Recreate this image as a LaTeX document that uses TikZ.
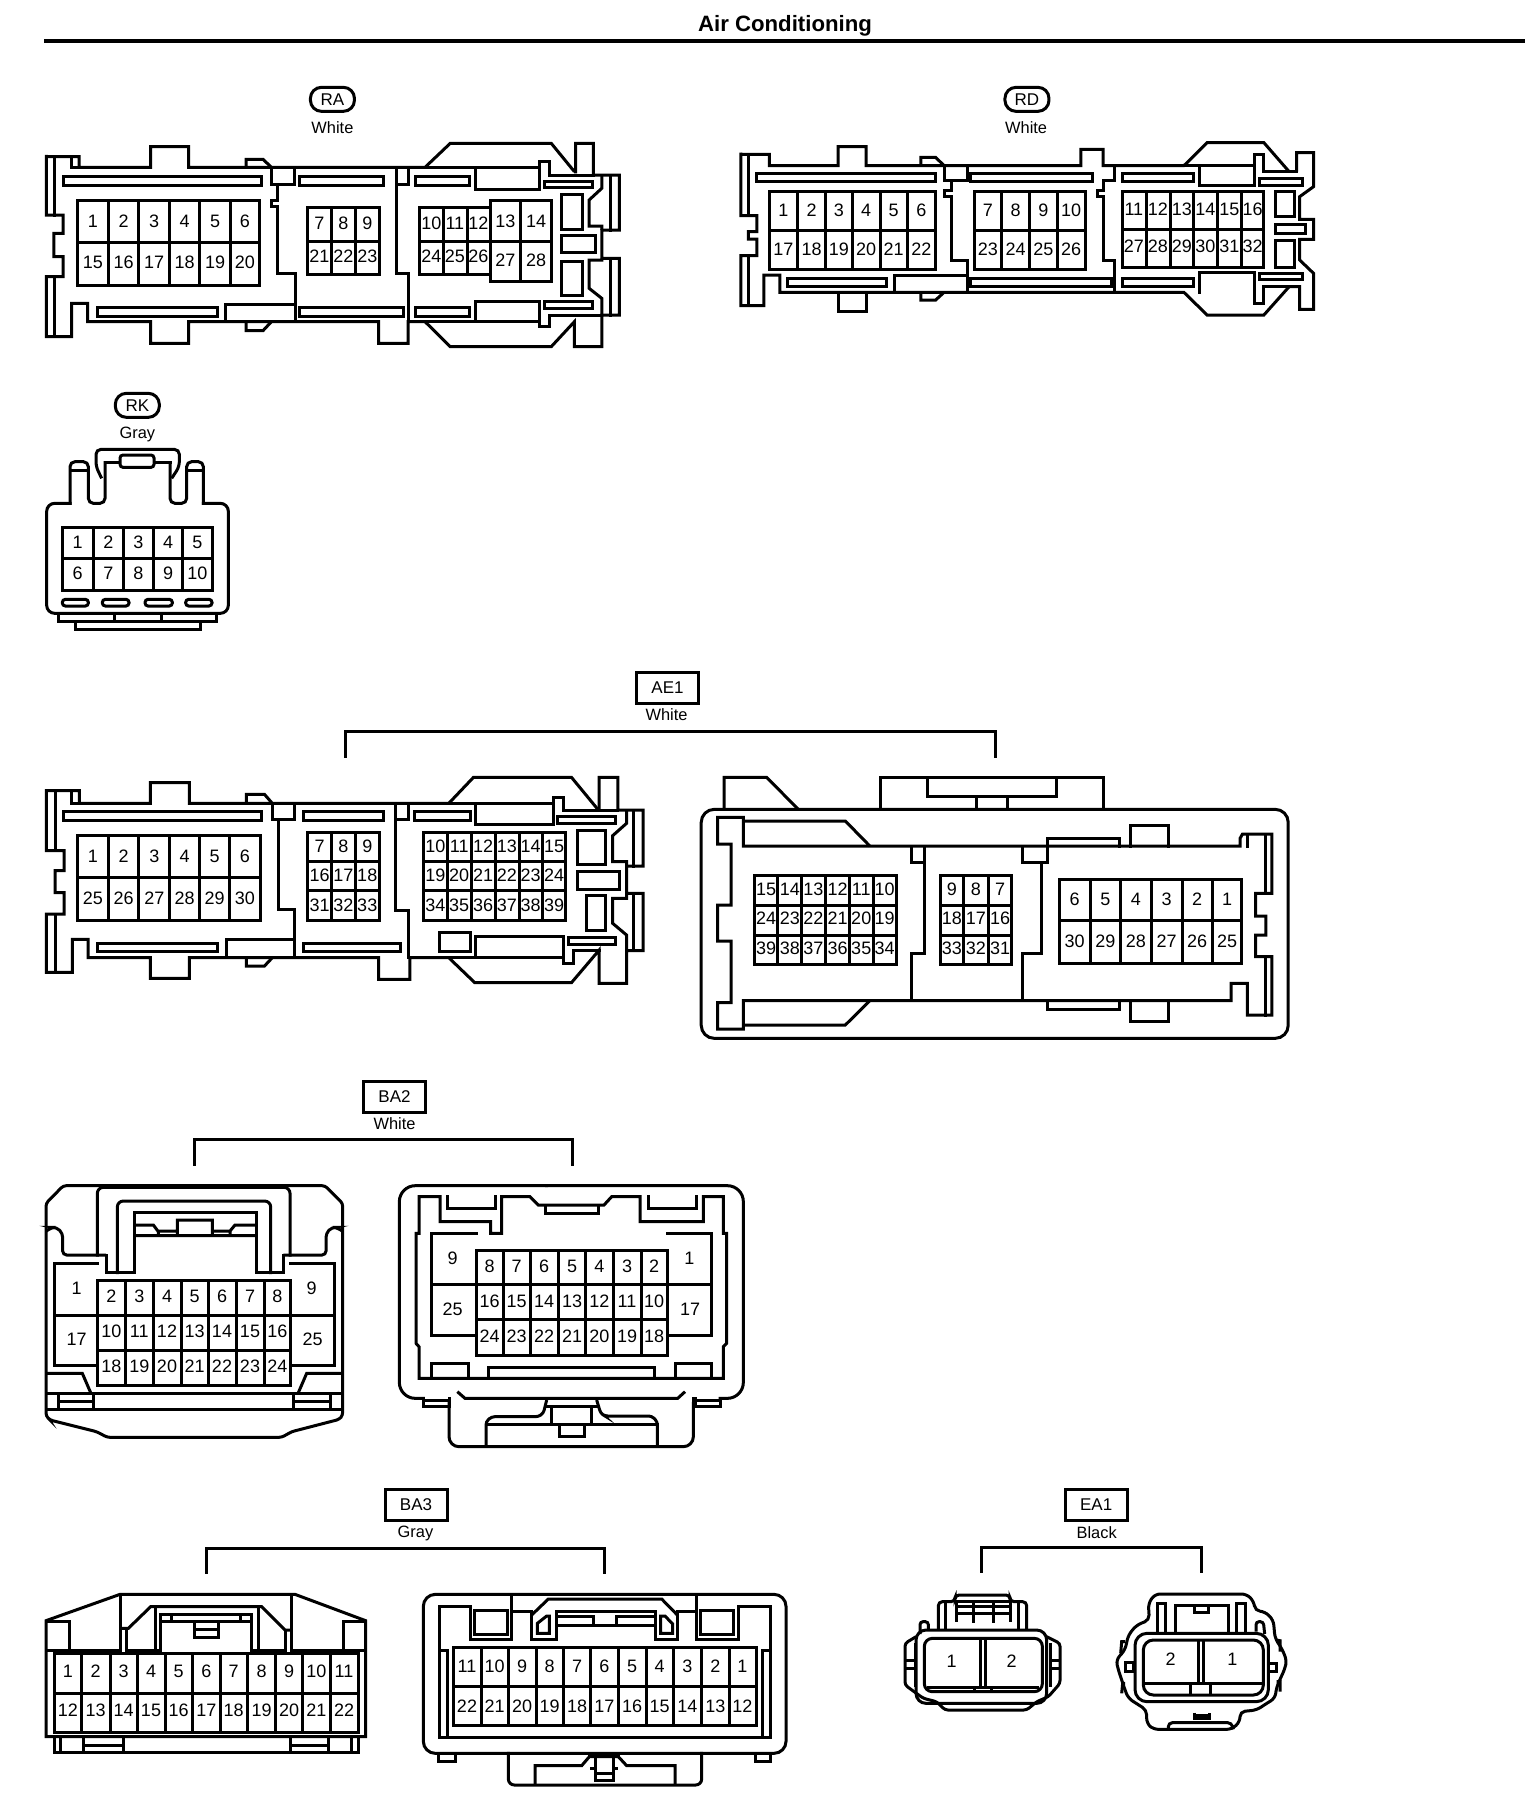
\documentclass[tikz,border=0pt]{standalone}
\usepackage{fontspec}
\setmainfont{Liberation Sans}
\newcommand{\gridc}[6]{\foreach \gx in {#1}{\draw[ln] (\gx,#5)--(\gx,#6);}\foreach \gy in {#2}{\draw[ln] (#3,\gy)--(#4,\gy);}}
\newcommand{\pinsrow}[3]{\foreach \px/\pt in {#3}{\node[pin] (#1\pt) at (\px,#2) {\pt};}}
\tikzset{
  ln/.style={line width=1.5pt,black,line cap=rect,line join=miter},
  flat/.style={ln,line cap=butt},
  pin/.style={inner sep=0pt,font=\fontsize{9}{9}\selectfont},
  note/.style={inner sep=0pt,font=\fontsize{8.2}{9}\selectfont},
  tagbox/.style={draw,line width=1.5pt,inner sep=0pt,minimum width=31pt,minimum height=15.5pt,font=\fontsize{8.5}{9}\selectfont},
  tagpill/.style={draw,line width=1.5pt,inner sep=0pt,rounded corners=5.5pt,minimum width=22pt,minimum height=12pt,font=\fontsize{8.5}{9}\selectfont},
  wide/.style={x=0.2104pt,y=-0.16667pt},
  wideb/.style={x=0.2168pt,y=-0.16667pt},
  widec/.style={x=0.2041pt,y=-0.16667pt},
  tri/.style={x=0.16667pt,y=-0.16667pt}
}
\begin{document}
\begin{tikzpicture}[x=0.5pt,y=-0.5pt]
\useasboundingbox (0,0) rectangle (1536,1808);
% title
\node[inner sep=0pt,font=\bfseries\fontsize{11.1}{12}\selectfont] (title) at (785,26) {Air Conditioning};
\coordinate (ruleL) at (44,41); \coordinate (ruleR) at (1525,41);
\draw[line width=1.6pt] (ruleL)--(ruleR);

% ---------- RA ----------
\begin{scope}[shift={(0,60)},wide]
\node[tagpill] (tagRA) at (790,118) {RA};
\node[note] (colRA) at (790,203) {White};
\draw[flat] (110,290)--(188,290)--(188,322)--(358,322)--(358,260)--(448,260)--(448,322)--(1010,322)--(1070,250)--(1310,250)--(1365,335);
\draw[flat] (1368,340)--(1368,250)--(1410,250)--(1410,345)--(1472,345)--(1472,510)--(1430,510)--(1430,595)--(1472,595)--(1472,765)--(1430,765)--(1430,860)--(1365,860)--(1365,785)--(1310,860)--(1070,860)--(1010,785)--(970,785)--(970,850)--(900,850)--(900,785)--(448,785)--(448,850)--(358,850)--(358,785)--(208,785)--(208,730)--(170,730)--(170,830)--(110,830)--(110,650)--(150,650)--(150,590)--(128,590)--(128,520)--(150,520)--(150,465)--(110,465)--(110,285);
\draw[ln] (130,290)--(130,465) (130,650)--(130,830);
\draw[ln] (170,290)--(170,322)--(188,322);
\draw[flat] (585,322)--(585,298)--(625,298)--(645,322) (585,785)--(585,812)--(625,812)--(645,785);
\draw[ln] (150,350) rectangle (622,375) (712,350) rectangle (912,375) (988,350) rectangle (1115,375);
\draw[ln] (232,742) rectangle (518,770) (712,742) rectangle (960,770) (988,742) rectangle (1115,770);
\draw[ln] (645,322)--(645,372)--(700,372)--(700,322);
\draw[ln] (660,372)--(660,420)--(645,420)--(645,438)--(660,438)--(660,640)--(702,640)--(702,785);
\draw[ln] (942,322)--(942,640)--(970,640)--(970,785) (970,322)--(970,372)--(942,372);
\draw[ln] (535,785)--(535,733)--(700,733);
\draw[ln] (1130,322)--(1130,388)--(1282,388)--(1282,305)--(1305,305)--(1305,345)--(1410,345);
\draw[ln] (1293,365) rectangle (1408,383) (1293,725) rectangle (1408,745);
\draw[ln] (1130,785)--(1130,725)--(1282,725)--(1282,800)--(1305,800)--(1305,765)--(1430,765);
\draw[ln] (1010,322)--(1282,322) (970,785)--(1282,785);
\draw[flat] (1430,345)--(1430,385)--(1400,420)--(1400,498)--(1430,498)--(1430,510);
\draw[flat] (1430,595)--(1430,600)--(1400,600)--(1400,685)--(1430,715)--(1430,765);
\draw[ln] (1450,345)--(1450,510) (1450,595)--(1450,765);
\draw[ln] (1335,403) rectangle (1385,507) (1335,525) rectangle (1415,578) (1335,603) rectangle (1385,705);
\gridc{185,258,330,403,475,547,617}{422,548,677}{185}{617}{422}{677}
\gridc{730,788,845,902}{442,545,643}{730}{902}{442}{643}
\gridc{997,1053,1110,1165}{442,545,643}{997}{1165}{442}{643}
\gridc{1165,1238,1310}{422,545,663}{1165}{1310}{422}{663}
\pinsrow{ra}{483}{221/1,294/2,366/3,439/4,511/5,582/6}
\pinsrow{ra}{607}{221/15,294/16,366/17,439/18,511/19,582/20}
\pinsrow{ra}{490}{759/7,816/8,873/9,1025/10,1081/11,1137/12}
\pinsrow{ra}{590}{759/21,816/22,873/23,1025/24,1081/25,1137/26}
\pinsrow{ra}{483}{1201/13,1274/14}
\pinsrow{ra}{600}{1201/27,1274/28}
\end{scope}

% ---------- RD ----------
\begin{scope}[shift={(700,60)},wide]
\node[tagpill] (tagRD) at (777,118) {RD};
\node[note] (colRD) at (775,203) {White};
\draw[flat] (97,283)--(165,283)--(165,317)--(328,317)--(328,260)--(395,260)--(395,317)--(905,317)--(905,268)--(958,268)--(958,317)--(1150,317)--(1205,248)--(1340,248)--(1400,335);
\draw[flat] (1418,335)--(1418,278)--(1458,278)--(1458,380)--(1425,410)--(1425,478)--(1458,478)--(1458,538)--(1425,538)--(1425,600)--(1458,640)--(1458,748)--(1425,748)--(1425,680)--(1400,680)--(1340,765)--(1205,765)--(1150,697)--(190,697)--(190,645)--(152,645)--(152,737)--(97,737)--(97,587)--(135,587)--(135,537)--(115,537)--(115,515)--(135,515)--(135,467)--(97,467)--(97,278);
\draw[ln] (115,283)--(115,467) (115,587)--(115,737);
\draw[ln] (328,697)--(328,755)--(395,755)--(395,697);
\draw[flat] (525,317)--(525,292)--(560,292)--(580,317) (525,697)--(525,720)--(560,720)--(580,697);
\draw[ln] (135,340) rectangle (560,365) (642,340) rectangle (932,365) (1005,340) rectangle (1172,365);
\draw[ln] (207,655) rectangle (442,680) (642,655) rectangle (978,680) (1005,655) rectangle (1172,680);
\draw[ln] (1330,355) rectangle (1432,375) (1330,640) rectangle (1432,658);
\draw[ln] (580,317)--(580,362)--(635,362)--(635,317);
\draw[ln] (597,362)--(597,392)--(580,392)--(580,408)--(597,408)--(597,602)--(635,602)--(635,697);
\draw[ln] (985,317)--(985,362)--(958,362)--(958,392)--(945,392)--(945,408)--(958,408)--(958,602)--(985,602)--(985,697);
\draw[ln] (462,697)--(462,645)--(635,645);
\draw[ln] (1187,317)--(1187,375)--(1318,375)--(1318,285)--(1338,285)--(1338,335)--(1418,335);
\draw[ln] (1150,317)--(1318,317);
\draw[ln] (1187,697)--(1187,637)--(1318,637)--(1318,730)--(1338,730)--(1338,680)--(1400,680);
\draw[ln] (1368,395) rectangle (1412,470) (1368,492) rectangle (1440,520) (1368,540) rectangle (1412,622);
\gridc{165,232,298,362,428,493,560}{395,510,628}{165}{560}{395}{628}
\gridc{652,717,783,850,915}{395,510,628}{652}{915}{395}{628}
\gridc{1003,1060,1117,1173,1230,1287,1340}{395,507,622}{1003}{1340}{395}{622}
\pinsrow{rd}{450}{198/1,265/2,330/3,395/4,460/5,526/6,684/7,750/8,816/9,882/10}
\pinsrow{rd}{567}{198/17,265/18,330/19,395/20,460/21,526/22,684/23,750/24,816/25,882/26}
\pinsrow{rd}{447}{1031/11,1088/12,1145/13,1201/14,1258/15,1313/16}
\pinsrow{rd}{560}{1031/27,1088/28,1145/29,1201/30,1258/31,1313/32}
\end{scope}

% ---------- RK ----------
\begin{scope}[shift={(0,380)},tri]
\node[tagpill] (tagRK) at (412,76) {RK};
\node[note] (colRK) at (412,164) {Gray};
\draw[ln,rounded corners=4pt] (210,370)--(140,370)--(140,700)--(685,700)--(685,370)--(610,370);
\draw[ln,rounded corners=2.5pt] (210,370)--(210,245)--(265,245)--(265,370)--(315,370)--(315,248);
\draw[ln,rounded corners=2.5pt] (610,370)--(610,245)--(560,245)--(560,370)--(510,370)--(510,248);
\draw[ln] (315,248)--(510,248) (212,272)--(263,272) (562,272)--(608,272);
\draw[flat,rounded corners=2.5pt] (305,295)--(288,260)--(288,208)--(538,208)--(538,260)--(515,295);
\draw[ln,rounded corners=1.5pt,fill=white] (360,225) rectangle (462,262);
\gridc{187,280,370,460,548,636}{442,535,632}{187}{636}{442}{632}
\pinsrow{rk}{487}{233/1,325/2,415/3,504/4,592/5}
\pinsrow{rk}{580}{233/6,325/7,415/8,504/9,592/10}
\draw[ln,rounded corners=1.5pt] (187,658) rectangle (265,678) (307,658) rectangle (387,678) (435,658) rectangle (517,678) (557,658) rectangle (636,678);
\draw[ln] (175,700)--(175,725)--(650,725)--(650,700) (342,700)--(342,725) (485,700)--(485,725);
\draw[ln] (225,725)--(225,748)--(600,748)--(600,725);
\end{scope}

% ---------- AE1 ----------
\node[tagbox] (tagAE) at (667.5,688) {AE1};
\node[note] (colAE) at (666.5,715) {White};
\coordinate (aeA) at (345,756); \coordinate (aeB) at (345,731); \coordinate (aeC) at (995,731); \coordinate (aeD) at (995,756);
\draw[ln] (aeA)--(aeB)--(aeC)--(aeD);
\begin{scope}[shift={(0,660)},wideb]
\draw[flat] (107,392)--(183,392)--(183,430)--(347,430)--(347,368)--(437,368)--(437,430)--(1035,430)--(1092,352)--(1318,352)--(1380,450);
\draw[flat] (1382,450)--(1382,352)--(1425,352)--(1425,450)--(1483,450)--(1483,618)--(1445,618)--(1445,700)--(1483,700)--(1483,872)--(1445,872)--(1445,970)--(1382,970)--(1382,870)--(1318,968)--(1095,968)--(1035,893)--(945,893)--(945,958)--(873,958)--(873,893)--(437,893)--(437,955)--(347,955)--(347,893)--(203,893)--(203,838)--(167,838)--(167,937)--(107,937)--(107,762)--(148,762)--(148,698)--(127,698)--(127,632)--(148,632)--(148,572)--(107,572)--(107,387);
\draw[ln] (127,392)--(127,572) (127,762)--(127,937) (165,392)--(165,430)--(183,430);
\draw[flat] (568,430)--(568,403)--(610,403)--(628,430) (568,893)--(568,918)--(610,918)--(628,893);
\draw[ln] (147,455) rectangle (603,480) (700,455) rectangle (885,480) (957,455) rectangle (1085,480);
\draw[ln] (225,850) rectangle (502,875) (700,850) rectangle (923,875);
\draw[ln] (628,430)--(628,477)--(680,477)--(680,430);
\draw[ln] (642,477)--(642,747)--(680,747)--(680,893);
\draw[ln] (522,893)--(522,838)--(680,838);
\draw[ln] (913,430)--(913,752)--(942,752)--(942,893) (942,430)--(942,477)--(913,477);
\draw[ln] (1035,430)--(1277,430) (1097,430)--(1097,493)--(1277,493)--(1277,412)--(1300,412)--(1300,450)--(1425,450);
\draw[ln] (1285,468) rectangle (1420,490) (1310,832) rectangle (1420,852);
\draw[flat] (1445,450)--(1445,490)--(1413,527)--(1413,605)--(1445,605)--(1445,618);
\draw[flat] (1445,700)--(1445,715)--(1413,715)--(1413,790)--(1445,825)--(1445,872);
\draw[ln] (1462,450)--(1462,618) (1462,700)--(1462,872);
\draw[ln] (1332,510) rectangle (1396,612) (1332,633) rectangle (1428,688) (1352,705) rectangle (1396,810) (1013,818) rectangle (1085,875);
\draw[ln] (1097,893)--(1097,828)--(1300,828)--(1300,910)--(1322,910)--(1322,870)--(1382,870);
\draw[ln] (945,893)--(1300,893);
\gridc{178,250,320,392,460,530,600}{525,652,782}{178}{600}{525}{782}
\gridc{710,765,820,875}{518,605,692,782}{710}{875}{518}{782}
\gridc{977,1032,1087,1142,1197,1252,1305}{518,605,692,782}{977}{1305}{518}{782}
\pinsrow{ael}{590}{214/1,285/2,356/3,426/4,495/5,565/6}
\pinsrow{ael}{715}{214/25,285/26,356/27,426/28,495/29,565/30}
\pinsrow{ael}{558}{737/7,792/8,847/9,1004/10,1059/11,1114/12,1169/13,1224/14,1278/15}
\pinsrow{ael}{645}{737/16,792/17,847/18,1004/19,1059/20,1114/21,1169/22,1224/23,1278/24}
\pinsrow{ael}{735}{737/31,792/32,847/33,1004/34,1059/35,1114/36,1169/37,1224/38,1278/39}
\end{scope}
\begin{scope}[shift={(680,660)},widec]
\draw[ln,rounded corners=6.5pt] (52,448) rectangle (1490,1135);
\draw[flat] (108,448)--(108,352)--(212,352)--(290,448);
\draw[ln] (490,448)--(490,352)--(1037,352)--(1037,448);
\draw[ln] (607,352)--(607,410)--(922,410)--(922,352) (727,410)--(727,448) (803,410)--(803,448);
\draw[ln] (155,558)--(155,472)--(92,472)--(92,552)--(125,552)--(125,735)--(92,735)--(92,843)--(125,843)--(125,1028)--(92,1028)--(92,1107)--(155,1107)--(155,1022)--(1350,1022)--(1350,970)--(1390,970)--(1390,1065)--(1450,1065)--(1450,890)--(1410,890)--(1410,825)--(1435,825)--(1435,768)--(1410,768)--(1410,700)--(1450,700)--(1450,522)--(1378,522)--(1372,535)--(1372,558)--cycle;
\draw[ln] (1390,558)--(1390,522) (1435,522)--(1435,700) (1435,890)--(1435,1065);
\draw[flat] (155,483)--(405,483)--(465,558) (155,1095)--(405,1095)--(465,1022);
\draw[ln] (567,558)--(567,608)--(600,608)--(600,558);
\draw[ln] (600,608)--(600,880)--(567,880)--(567,1022);
\draw[ln] (840,558)--(840,608)--(900,608)--(900,535)--(1077,535)--(1077,558);
\draw[ln] (885,608)--(885,880)--(840,880)--(840,1022);
\draw[ln] (1103,558)--(1103,497)--(1197,497)--(1197,558);
\draw[ln] (900,1022)--(900,1048)--(1077,1048)--(1077,1022);
\draw[ln] (1103,1022)--(1103,1085)--(1197,1085)--(1197,1022);
\gridc{183,240,298,357,415,473,530}{645,735,825,912}{183}{530}{645}{912}
\gridc{638,695,755,813}{645,735,825,912}{638}{813}{645}{912}
\gridc{930,1005,1080,1155,1230,1305,1375}{658,782,910}{930}{1375}{658}{910}
\pinsrow{aer}{688}{211/15,269/14,327/13,386/12,444/11,501/10,666/9,725/8,784/7}
\pinsrow{aer}{775}{211/24,269/23,327/22,386/21,444/20,501/19,666/18,725/17,784/16}
\pinsrow{aer}{865}{211/39,269/38,327/37,386/36,444/35,501/34,666/33,725/32,784/31}
\pinsrow{aerb}{717}{967/6,1042/5,1117/4,1192/3,1267/2,1340/1}
\pinsrow{aerb}{843}{967/30,1042/29,1117/28,1192/27,1267/26,1340/25}
\end{scope}

% ---------- BA2 ----------
\node[tagbox] (tagBA2) at (394.5,1096.5) {BA2};
\node[note] (colBA2) at (394.5,1124) {White};
\coordinate (b2A) at (194,1164); \coordinate (b2B) at (194,1139); \coordinate (b2C) at (572,1139); \coordinate (b2D) at (572,1164);
\draw[ln] (b2A)--(b2B)--(b2C)--(b2D);
\begin{scope}[shift={(20,1070)},tri]
\draw[ln,rounded corners=1.5pt] (78,400)--(130,347)--(915,347)--(968,400)--(968,1036)--(958,1048)--(815,1085)--(785,1102)--(262,1102)--(230,1085)--(90,1050)--(78,1038)--cycle;
\draw[ln,rounded corners=3pt] (232,555)--(232,352)--(810,352)--(810,555);
\draw[ln,rounded corners=3pt] (292,608)--(292,393)--(752,393)--(752,608);
\draw[ln] (342,608)--(342,428)--(708,428)--(708,608);
\draw[flat] (342,465)--(400,465)--(415,485)--(415,497) (342,497)--(708,497) (415,483)--(472,483) (472,450) rectangle (577,497) (577,483)--(630,483) (630,497)--(630,483)--(645,465)--(708,465);
\draw[flat,rounded corners=2pt] (78,484)--(95,472)--(110,472)--(128,490)--(128,555)--(258,555);
\draw[ln] (258,555)--(258,608)--(342,608);
\draw[flat,rounded corners=2pt] (968,484)--(950,472)--(935,472)--(918,490)--(918,555)--(790,555);
\draw[ln] (790,555)--(790,608)--(708,608);
\draw[ln] (232,580)--(103,580)--(103,885)--(232,885) (103,735)--(232,735) (812,580)--(942,580)--(942,885)--(812,885) (812,735)--(942,735);
\gridc{232,316,400,483,565,648,732,812}{630,735,842,945}{232}{812}{630}{945}
\pinsrow{ba2l}{680}{274/2,358/3,441/4,524/5,606/6,690/7,772/8}
\pinsrow{ba2l}{785}{274/10,358/11,441/12,524/13,606/14,690/15,772/16}
\pinsrow{ba2l}{890}{274/18,358/19,441/20,524/21,606/22,690/23,772/24}
\node[pin] (ba2l1) at (170,655) {1}; \node[pin] (ba2l17) at (170,808) {17};
\node[pin] (ba2l9) at (875,655) {9}; \node[pin] (ba2l25) at (878,808) {25};
\draw[flat] (80,910)--(187,910)--(212,968) (966,910)--(860,910)--(835,968);
\draw[flat] (78,970)--(968,970) (78,1018)--(968,1018);
\draw[flat] (220,970)--(220,1018) (820,970)--(820,1018) (115,970)--(115,1018) (930,970)--(930,1018) (115,995)--(220,995) (820,995)--(930,995);
\end{scope}
\begin{scope}[shift={(380,1070)},tri]
\draw[ln,rounded corners=8pt] (500,347)--(1090,347)--(1090,985)--(1020,985);
\draw[ln,rounded corners=8pt] (130,985)--(58,985)--(58,347)--(500,347);
\draw[ln] (1020,985)--(1020,1010)--(945,1010)--(945,985) (945,990)--(1020,990) (130,985)--(130,1010)--(207,1010)--(207,985) (130,990)--(207,990);
\draw[ln,rounded corners=5pt] (207,1000)--(207,1130)--(940,1130)--(940,1000);
\draw[ln] (940,1000)--(940,985);
\draw[ln] (117,380)--(180,380)--(180,455)--(332,455)--(332,490)--(365,490)--(365,380)--(450,380)--(475,405)--(672,405)--(695,380)--(780,380)--(780,455)--(970,455)--(970,380)--(1030,380)--(1030,490)--(1040,490)--(1040,820)--(1030,830)--(1030,925)--(117,925)--(117,830)--(108,820)--(108,490)--(117,490)--cycle;
\draw[ln] (495,405)--(495,430)--(655,430)--(655,405);
\draw[ln] (202,380)--(202,415)--(345,415)--(345,380) (805,380)--(805,415)--(948,415)--(948,380);
\draw[ln] (288,490)--(155,490)--(155,797)--(288,797) (155,642)--(288,642) (862,490)--(995,490)--(995,797)--(862,797) (862,642)--(995,642);
\gridc{288,370,450,535,617,700,783,862}{540,642,748,855}{288}{862}{540}{855}
\pinsrow{ba2r}{590}{329/8,410/7,492/6,576/5,658/4,741/3,822/2}
\pinsrow{ba2r}{695}{329/16,410/15,492/14,576/13,658/12,741/11,822/10}
\pinsrow{ba2r}{800}{329/24,410/23,492/22,576/21,658/20,741/19,822/18}
\node[pin] (ba2r9) at (218,565) {9}; \node[pin] (ba2r25) at (218,718) {25};
\node[pin] (ba2r1) at (928,565) {1}; \node[pin] (ba2r17) at (930,718) {17};
\draw[ln] (155,925)--(155,880)--(265,880)--(265,925) (885,925)--(885,880)--(995,880)--(995,925) (325,925)--(325,892)--(822,892)--(822,925);
\draw[flat] (232,965)--(255,985)--(893,985)--(915,965);
\draw[flat,rounded corners=1.5pt] (500,990)--(490,1030)--(475,1040)--(335,1040)--(318,1055)--(318,1125);
\draw[flat,rounded corners=1.5pt] (650,990)--(662,1030)--(675,1038)--(815,1038)--(832,1055)--(832,1125);
\draw[ln] (318,1062)--(832,1062) (515,1010)--(515,1062) (635,1010)--(635,1062) (500,1010)--(650,1010);
\draw[ln] (537,1062)--(537,1098)--(612,1098)--(612,1062);
\end{scope}

% ---------- BA3 ----------
\node[tagbox] (tagBA3) at (416,1505) {BA3};
\node[note] (colBA3) at (415.5,1533) {Gray};
\coordinate (b3A) at (206,1572); \coordinate (b3B) at (206,1548); \coordinate (b3C) at (604,1548); \coordinate (b3D) at (604,1572);
\draw[ln] (b3A)--(b3B)--(b3C)--(b3D);
\begin{scope}[shift={(20,1480)},tri]
\draw[ln] (78,770)--(78,422)--(300,343)--(825,343)--(1037,422)--(1037,770)--cycle;
\draw[ln] (78,425)--(148,425)--(148,510) (1037,425)--(970,425)--(970,510);
\draw[ln] (78,510)--(300,510)--(300,345) (1037,510)--(815,510)--(815,345);
\gridc{103,185,270,352,435,518,600,683,767,848,930,1015}{520,640,757}{103}{1015}{520}{757}
\pinsrow{ba3l}{575}{144/1,227/2,311/3,393/4,476/5,559/6,641/7,725/8,807/9,889/10,972/11}
\pinsrow{ba3l}{692}{144/12,227/13,311/14,393/15,476/16,559/17,641/18,725/19,807/20,889/21,972/22}
\draw[flat] (300,445)--(325,445)--(392,380)--(725,380)--(795,450)--(815,450);
\draw[ln] (318,445)--(318,520) (795,450)--(795,520);
\draw[ln] (405,380)--(405,510)--(420,510) (715,380)--(715,510)--(695,510);
\draw[ln] (420,515)--(420,403)--(695,403)--(695,515) (420,425)--(695,425) (455,403)--(455,425) (660,403)--(660,425);
\draw[ln] (523,425)--(523,473)--(595,473)--(595,425) (523,448)--(595,448);
\draw[ln] (325,510)--(405,510) (715,510)--(795,510);
\draw[ln] (103,770)--(103,818)--(1015,818)--(1015,770) (120,770)--(120,818) (995,770)--(995,818);
\draw[ln] (190,770)--(190,818) (310,770)--(310,818) (810,770)--(810,818) (925,770)--(925,818) (190,795)--(310,795) (810,795)--(925,795);
\end{scope}
\begin{scope}[shift={(400,1480)},tri]
\draw[ln,rounded corners=6pt] (70,343) rectangle (1158,820);
\draw[ln] (115,820)--(115,845)--(165,845)--(165,825) (1065,825)--(1065,845)--(1110,845)--(1110,820);
\draw[ln,rounded corners=3pt] (325,820)--(325,915)--(905,915)--(905,820);
\draw[ln] (117,772)--(117,380)--(212,380)--(212,478)--(335,478)--(335,345);
\draw[ln] (335,395)--(395,395)--(395,478)--(470,478)--(470,395)--(765,395)--(765,478)--(832,478)--(832,395)--(890,395);
\draw[ln] (890,345)--(890,478)--(1015,478)--(1015,380)--(1110,380)--(1110,772)--(117,772);
\draw[ln] (222,392) rectangle (322,462) (902,392) rectangle (1000,462);
\draw[flat] (395,405)--(445,357)--(785,357)--(832,405);
\draw[ln] (412,460)--(412,430)--(440,408)--(448,408)--(448,460)--cycle (782,408)--(795,408)--(818,432)--(818,460)--(782,460)--cycle;
\draw[ln] (470,410)--(580,410)--(580,435)--(650,435)--(650,410)--(765,410) (470,435)--(580,435) (650,435)--(765,435);
\gridc{160,243,325,408,490,572,655,738,820,905,987,1068}{503,620,735}{160}{1068}{503}{735}
\pinsrow{ba3r}{560}{201/11,284/10,366/9,449/8,531/7,613/6,696/5,779/4,862/3,946/2,1027/1}
\pinsrow{ba3r}{678}{201/22,284/21,366/20,449/19,531/18,613/17,696/16,779/15,862/14,946/13,1027/12}
\draw[ln] (117,510)--(143,510)--(143,772) (1110,510)--(1087,510)--(1087,772);
\draw[flat] (405,912)--(405,857)--(545,857)--(568,830)--(655,830)--(680,857)--(825,857)--(825,912);
\draw[flat] (568,825)--(568,830) (655,825)--(655,830) (570,865)--(585,865) (640,865)--(655,865);
\draw[flat] (585,830)--(585,900)--(640,900)--(640,830) (585,880)--(640,880);
\end{scope}

% ---------- EA1 ----------
\begin{scope}[shift={(880,1480)},tri]
\node[tagbox] (tagEA) at (648.5,75) {EA1};
\node[note] (colEA) at (650,157) {Black};
\coordinate (eaA) at (305,275); \coordinate (eaB) at (305,203); \coordinate (eaC) at (965,203); \coordinate (eaD) at (965,275);
\draw[ln] (eaA)--(eaB)--(eaC)--(eaD);
% left plug
\draw[ln,rounded corners=5pt] (108,450) rectangle (500,670);
\draw[ln,rounded corners=4pt] (133,475) rectangle (487,635);
\draw[flat] (300,475)--(300,622) (316,475)--(316,622) (140,622)--(478,622) (282,622)--(282,635) (335,622)--(335,635);
\draw[flat,rounded corners=1.5pt] (108,470)--(75,490)--(75,615)--(130,655)--(170,665)--(195,690)--(440,690)--(470,665)--(505,650)--(540,610)--(540,490)--(500,470);
\draw[flat] (75,540)--(105,540) (75,565)--(105,565) (510,540)--(540,540) (510,565)--(540,565) (510,490)--(510,620) (105,490)--(105,620);
\draw[flat,rounded corners=2pt] (175,450)--(175,365)--(225,365)--(225,345)--(390,345)--(390,365)--(440,365)--(440,450);
\draw[flat] (195,365)--(195,450) (415,365)--(415,450) (230,365)--(230,425) (280,370)--(280,430) (340,370)--(340,430) (390,365)--(390,425) (230,380)--(390,380) (230,400)--(390,400) (225,365)--(390,365);
\draw[flat,rounded corners=1.5pt] (120,462)--(120,425)--(145,425)--(145,450);
\node[pin] (ealp1) at (215,543) {1}; \node[pin] (ealp2) at (395,543) {2};
% right plug
\begin{scope}[shift={(660,270)}]
\draw[ln,rounded corners=2.5pt] (148,150)--(145,100)--(165,72)--(440,72)--(462,95)--(465,122)--(495,125)--(520,150)--(525,205)--(545,235)--(560,270)--(555,295)--(530,350)--(525,385)--(500,400)--(470,420)--(420,425)--(420,455)--(395,478)--(160,478)--(140,460)--(140,420)--(85,385)--(75,360)--(55,300)--(48,270)--(75,240)--(85,195)--(110,165)--cycle;
\draw[ln,rounded corners=6pt] (105,190) rectangle (505,395);
\draw[ln,rounded corners=5pt] (130,210) rectangle (490,375);
\draw[flat] (295,210)--(295,340) (310,210)--(310,340) (132,340)--(488,340) (272,340)--(272,373) (332,340)--(332,373);
\draw[flat] (172,190)--(172,100)--(195,100)--(195,190) (410,190)--(410,100)--(435,100)--(435,190);
\draw[flat] (225,190)--(225,105)--(385,105)--(385,190) (282,108)--(282,127)--(325,127)--(325,108);
\draw[flat,rounded corners=1.5pt] (468,185)--(468,155)--(490,155)--(494,192);
\draw[ln] (75,278) rectangle (100,305) (505,280) rectangle (530,305);
\draw[flat] (75,215)--(65,215)--(62,250) (75,340)--(68,340)--(65,370) (530,210)--(540,212)--(540,245) (530,335)--(540,335)--(540,365);
\draw[flat,rounded corners=2pt] (205,478)--(205,458)--(395,458)--(400,478);
\draw[flat] (282,428)--(282,445)--(328,445)--(328,428) (282,436)--(328,436);
\end{scope}
\node[pin] (earp2) at (872,538) {2}; \node[pin] (earp1) at (1057,538) {1};
\end{scope}
\end{tikzpicture}
\end{document}
